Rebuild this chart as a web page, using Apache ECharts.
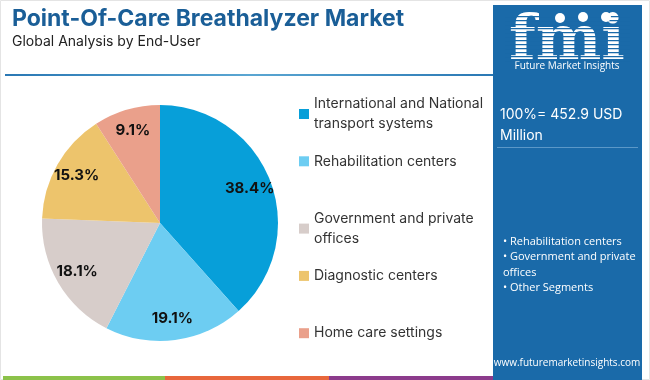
<!DOCTYPE html>
<html>
<head>
<meta charset="utf-8">
<script src="https://cdn.jsdelivr.net/npm/echarts@6/dist/echarts.min.js"></script>
<style>html,body{margin:0;padding:0;background:#fff}#c{width:650px;height:380px}</style>
</head>
<body>
<div id="c"></div>
<script>
var categories = ["International and National\ntransport systems", "Rehabilitation centers", "Government and private\noffices", "Diagnostic centers", "Home care settings"];
var values = [38.4, 19.1, 18.1, 15.3, 9.1];
var colors = ["#079fd9", "#6dcdf2", "#d7cdca", "#edc46c", "#eaa08b"];
var titleText = "Point-Of-Care Breathalyzer Market";
var subtitleText = "Global Analysis by End-User";
var totalText = "100%= 452.9 USD\nMillion";
var bullets = ["• Rehabilitation centers", "• Government and private\noffices", "• Other Segments"];
var urlText = "www.futuremarketinsights.com";

var chart = echarts.init(document.getElementById('c'), null, {renderer: 'canvas'});
var font = "Inter, 'Open Sans', sans-serif";
var data = categories.map(function (c, i) { return {name: c, value: values[i], itemStyle: {color: colors[i]}}; });

var legends = categories.map(function (c, i) {
  return {
    orient: 'vertical', left: 299, top: 94 + i * 57.3, padding: 0,
    data: [c], itemWidth: 10, itemHeight: 10, itemGap: 0,
    icon: 'rect', selectedMode: false,
    textStyle: {fontFamily: font, fontSize: 14, color: '#333', lineHeight: 20}
  };
});

var stripes = [];
for (var y = 16; y < 62; y += 4) {
  stripes.push({type: 'rect', shape: {x: 505, y: y, width: 125, height: 1.3}, style: {fill: '#1a6aa9'}, z: 110});
}

var graphic = [
  {type: 'rect', shape: {x: 0.5, y: 0.5, width: 649, height: 379}, style: {fill: 'none', stroke: '#e4e4e4', lineWidth: 1}, z: 1},
  {type: 'text', left: 12, top: 8, style: {text: titleText, font: "bold 23px " + font, fill: '#1a5e97'}, z: 100},
  {type: 'text', left: 12, top: 35, style: {text: subtitleText, font: "14px " + font, fill: '#222'}, z: 100},
  {type: 'rect', shape: {x: 5, y: 74, width: 488, height: 2}, style: {fill: new echarts.graphic.LinearGradient(0, 0, 1, 0, [{offset: 0, color: '#2a78b4'}, {offset: 0.5, color: '#5aa6d2'}, {offset: 1, color: '#2a78b4'}])}, z: 100},
  {type: 'rect', shape: {x: 493, y: 5, width: 149, height: 375}, style: {fill: '#1a6aa9'}, z: 50},
  {type: 'text', x: 567, y: 12, style: {text: 'fmi', font: "bold 62px 'DejaVu Serif', serif", fill: '#ffffff', align: 'center', verticalAlign: 'top'}, z: 100},
  {type: 'circle', shape: {cx: 560, cy: 18, r: 5}, style: {fill: '#ffffff'}, z: 120},
  {type: 'circle', shape: {cx: 583, cy: 17, r: 5}, style: {fill: '#ffffff'}, z: 120},
  {type: 'circle', shape: {cx: 606, cy: 17, r: 5}, style: {fill: '#ffffff'}, z: 120},
  {type: 'text', x: 567, y: 61, style: {text: 'Future Market Insights', font: "10px 'Open Sans', sans-serif", fill: '#ffffff', align: 'center', verticalAlign: 'top'}, z: 100},
  {type: 'text', x: 500, y: 104, style: {text: totalText, font: "14px " + font, fill: '#ffffff', lineHeight: 21}, z: 100},
  {type: 'rect', shape: {x: 497, y: 147, width: 141, height: 1}, style: {fill: '#5b98c8'}, z: 100},
  {type: 'text', x: 503, y: 234, style: {text: bullets.join('\n'), font: "11px 'Open Sans', sans-serif", fill: '#ffffff', lineHeight: 15.5}, z: 100},
  {type: 'text', x: 567, y: 358, style: {text: urlText, font: "10px 'Open Sans', sans-serif", fill: '#ffffff', align: 'center'}, z: 100},
  {type: 'rect', shape: {x: 3, y: 376, width: 162, height: 4}, style: {fill: '#8cc24a'}, z: 100},
  {type: 'rect', shape: {x: 165, y: 376, width: 164, height: 4}, style: {fill: '#e8673c'}, z: 100},
  {type: 'rect', shape: {x: 329, y: 376, width: 164, height: 4}, style: {fill: '#8c3b8c'}, z: 100}
].concat(stripes);

chart.setOption({
  animation: false,
  legend: legends,
  graphic: graphic,
  series: [
    {
      type: 'pie', center: [160, 223], radius: [0, 118], startAngle: 90, clockwise: true,
      data: data, label: {show: false}, labelLine: {show: false},
      itemStyle: {borderWidth: 0}, emphasis: {disabled: true}
    },
    {
      type: 'pie', center: [160, 223], radius: [68, 118], startAngle: 90, clockwise: true,
      data: data.map(function (d) { return {name: d.name, value: d.value, itemStyle: {color: 'rgba(0,0,0,0)'}}; }),
      legendHoverLink: false, silent: true,
      label: {show: true, position: 'inside', formatter: function (p) { return p.value.toFixed(1) + '%'; }, fontFamily: font, fontWeight: 'bold', fontSize: 15, color: '#111'},
      labelLine: {show: false}, emphasis: {disabled: true}
    }
  ]
});
</script>
</body>
</html>
